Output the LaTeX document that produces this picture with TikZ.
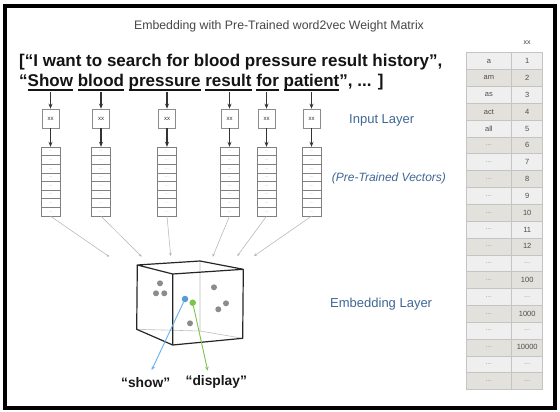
\documentclass[tikz,border=0pt]{standalone}
\usepackage{fontspec}
\setmainfont{Liberation Sans}
\usetikzlibrary{arrows.meta}
\definecolor{lblblue}{HTML}{3F6896}
\definecolor{tlight}{HTML}{EFEFEF}
\definecolor{tdark}{HTML}{E2E1DB}
\definecolor{tline}{HTML}{C4C4C4}
\definecolor{dotgray}{HTML}{8C8C8C}
\definecolor{showblue}{HTML}{6AB0EE}
\definecolor{dotblue}{HTML}{5B9BD5}
\definecolor{dispgreen}{HTML}{7CC44C}
\newcommand{\dd}{{\color{black!40}...}}
\newcommand{\myul}[1]{\setbox0=\hbox{#1}\rlap{\vrule height -2.4pt depth 3.7pt width \wd0}\box0\relax}
\begin{document}
\begin{tikzpicture}[x=1pt,y=-1pt,
  blk/.style={draw=black!80, line width=1.1pt, -{Stealth[length=5pt,width=4pt]}},
  thin/.style={draw=black!30, line width=0.5pt, -{Stealth[length=3pt,width=2.5pt]}},
  xxbox/.style={draw=black!45, fill=white, line width=0.6pt, minimum width=17pt, minimum height=19pt, inner sep=0pt, font=\fontsize{6}{6}\selectfont, text=black!80},
  vec/.style={minimum width=19pt, minimum height=69pt, inner sep=0pt},
  cellbox/.style={draw=black!50, fill=white, line width=0.6pt},
  lbl/.style={anchor=west, text=lblblue, inner sep=0pt, font=\fontsize{13}{15}\selectfont},
  tcl/.style={draw=tline, line width=0.5pt, minimum width=45.7pt, minimum height=16.84pt, inner sep=0pt, font=\fontsize{7.5}{8}\selectfont, text=black!70},
  tcr/.style={draw=tline, line width=0.5pt, minimum width=31pt, minimum height=16.84pt, inner sep=0pt, font=\fontsize{7.5}{8}\selectfont, text=black!70},
  edge/.style={draw=black!85, line width=1.2pt, line join=round},
  hidden/.style={draw=black!25, line width=0.6pt},
  dot/.style={circle, fill=dotgray, minimum size=6pt, inner sep=0pt},
  quote/.style={font=\bfseries\fontsize{13.8}{15}\selectfont, text=black!90}
]
\useasboundingbox (0,0) rectangle (560,412);
\fill[white] (0,0) rectangle (560,412);
\draw[line width=4pt] (5,6) rectangle (555,408);

% title
\node[font=\fontsize{12.3}{14}\selectfont, text=black!72] (title) at (279,26) {Embedding with Pre-Trained word2vec Weight Matrix};

% sentences
\node[anchor=base west, inner sep=0pt, font=\bfseries\fontsize{17}{20}\selectfont, text=black!92] (line1) at (19,66.5) {[“I want to search for blood pressure result history”,};
\node[anchor=base west, inner sep=0pt, font=\bfseries\fontsize{17}{20}\selectfont, text=black!92] (line2) at (19,87) {“\myul{Show} \myul{blood} \myul{pressure} \myul{result} \myul{for} \myul{patient}”, ... ]};

% columns
\foreach \i/\x in {1/50.5, 2/101, 3/167, 4/229.5, 5/266.5, 6/311.5} {
  \coordinate (w\i) at (\x,92);
  \node[xxbox] (b\i) at (\x,118.5) {xx};
  \node[vec] (v\i) at (\x,181.5) {};
  \foreach \k in {0,...,7} {
    \draw[cellbox] (\x-9.5,147+\k*8.625) rectangle (\x+9.5,147+\k*8.625+8.625);
    \node[font=\fontsize{4}{4}\selectfont, text=black!45, inner sep=0pt] at (\x,147+\k*8.625+4.6) {...};
  }
  \draw[blk] (w\i) -- (b\i.north);
  \draw[blk] (b\i.south) -- (v\i.north);
}

% labels
\node[lbl] (inl) at (349,120) {Input Layer};
\node[lbl, font=\itshape\fontsize{12}{14}\selectfont] (ptv) at (331.7,178) {(Pre-Trained Vectors)};
\node[lbl] (eml) at (330,304) {Embedding Layer};

% cube vertices
\coordinate (A) at (137.3,265);
\coordinate (B) at (200,261);
\coordinate (C) at (243.3,269.3);
\coordinate (D) at (172.7,274);
\coordinate (E) at (242.7,338.3);
\coordinate (F) at (172.7,345);
\coordinate (G) at (136.7,329.3);
\coordinate (H) at (200,331);

% connectors to cube
\foreach \i/\cx/\cy in {1/109.3/256.7, 2/141.7/256.7, 3/170.7/256, 4/212.7/256.7, 5/237.3/256, 6/254/256} {
  \coordinate (c\i) at (\cx,\cy);
  \draw[thin] (v\i.south) -- (c\i);
}

\draw[hidden] (B) -- (H) (G) -- (H) -- (E);
\draw[edge] (A) -- (B) -- (C) -- (D) -- cycle;
\draw[edge] (D) -- (F) (C) -- (E) -- (F) -- (G) -- (A);

% dots
\node[dot] (p1) at (160,283.3) {};
\node[dot] (p2) at (156,293.3) {};
\node[dot] (p3) at (164.3,293.3) {};
\node[dot] (p4) at (214,287.3) {};
\node[dot] (p5) at (226,303.3) {};
\node[dot] (p6) at (218.3,309.3) {};
\node[dot] (p7) at (190,323.3) {};
\node[dot, fill=dotblue, minimum size=6.5pt] (sd) at (185,299) {};
\node[dot, fill=dispgreen, minimum size=6.5pt] (gd) at (192.7,302.7) {};

% words
\node[quote] (show) at (145.7,382.3) {“show”};
\node[quote] (disp) at (216.3,382.3) {“display”};
\coordinate (st) at (151.7,370);
\coordinate (dt) at (207.7,370.7);
\draw[draw=showblue, line width=0.9pt, -{Stealth[length=4pt,width=3.5pt]}] (sd) -- (st);
\draw[draw=dispgreen, line width=0.9pt, -{Stealth[length=4pt,width=3.5pt]}] (gd) -- (dt);

% table
\node[font=\fontsize{7}{8}\selectfont, text=black!75] (th) at (527.2,43) {xx};
\foreach \i/\l/\r/\c in {1/a/1/tlight, 2/am/2/tdark, 3/as/3/tlight, 4/act/4/tdark, 5/all/5/tlight,
  6/\dd/6/tdark, 7/\dd/7/tlight, 8/\dd/8/tdark, 9/\dd/9/tlight, 10/\dd/10/tdark,
  11/\dd/11/tlight, 12/\dd/12/tdark, 13/\dd/\dd/tlight, 14/\dd/100/tdark, 15/\dd/\dd/tlight,
  16/\dd/1000/tdark, 17/\dd/\dd/tlight, 18/\dd/10000/tdark, 19/\dd/\dd/tlight, 20/\dd/\dd/tdark} {
  \node[tcl, fill=\c] (L\i) at (488.85,52.7+\i*16.84-8.42) {\l};
  \node[tcr, fill=\c] (R\i) at (527.2,52.7+\i*16.84-8.42) {\r};
}
\end{tikzpicture}
\end{document}
